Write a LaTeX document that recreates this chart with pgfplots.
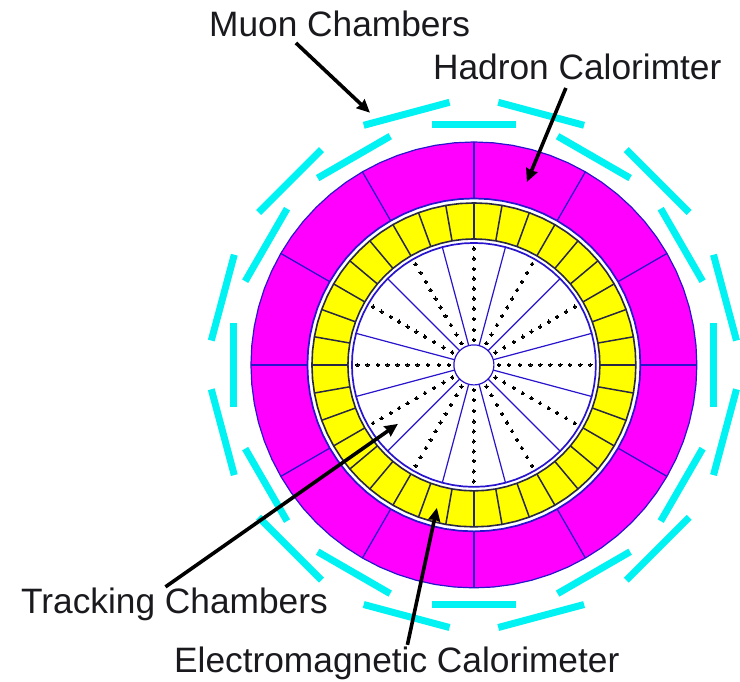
\documentclass[border=0pt]{standalone}
\usepackage{pgfplots}
\pgfplotsset{compat=1.18}
\usepackage{fontspec}
\setmainfont{Liberation Sans}
\usetikzlibrary{arrows.meta}
\definecolor{mag}{RGB}{255,0,255}
\definecolor{cy}{RGB}{0,242,242}
\definecolor{yel}{RGB}{255,255,0}
\definecolor{bl}{RGB}{40,20,205}
\definecolor{dk}{RGB}{40,40,70}
\definecolor{txt}{RGB}{25,25,30}
% a full circle of the given radius, in polar data coordinates
\newcommand{\ringplot}[4]{\addplot[data cs=polar,fill=#2,draw=#3,line width=#4,mark=none,line join=round] coordinates {(0,#1)(5,#1)(10,#1)(15,#1)(20,#1)(25,#1)(30,#1)(35,#1)(40,#1)(45,#1)(50,#1)(55,#1)(60,#1)(65,#1)(70,#1)(75,#1)(80,#1)(85,#1)(90,#1)(95,#1)(100,#1)(105,#1)(110,#1)(115,#1)(120,#1)(125,#1)(130,#1)(135,#1)(140,#1)(145,#1)(150,#1)(155,#1)(160,#1)(165,#1)(170,#1)(175,#1)(180,#1)(185,#1)(190,#1)(195,#1)(200,#1)(205,#1)(210,#1)(215,#1)(220,#1)(225,#1)(230,#1)(235,#1)(240,#1)(245,#1)(250,#1)(255,#1)(260,#1)(265,#1)(270,#1)(275,#1)(280,#1)(285,#1)(290,#1)(295,#1)(300,#1)(305,#1)(310,#1)(315,#1)(320,#1)(325,#1)(330,#1)(335,#1)(340,#1)(345,#1)(350,#1)(355,#1)(360,#1)};}
\newcommand{\lab}[3]{\node[anchor=base west,inner sep=0pt,text=txt,font=\fontsize{35.3}{38}\selectfont] at (axis cs:#1,#2) {#3};}
\begin{document}
\begin{tikzpicture}
\begin{axis}[hide axis,scale only axis,width=740pt,height=682pt,
  xmin=-474,xmax=266,ymin=-317,ymax=365,clip=false]
\path (axis cs:-474,-317) rectangle (axis cs:266,365);
% muon chambers, inner ring
\pgfplotsset{muon/.style={data cs=polar,cy,line width=7pt,mark=none}}
\addplot[muon] coordinates {(-9.9,243.6)(9.9,243.6)};
\addplot[muon] coordinates {(20.1,243.6)(39.9,243.6)};
\addplot[muon] coordinates {(50.1,243.6)(69.9,243.6)};
\addplot[muon] coordinates {(80.1,243.6)(99.9,243.6)};
\addplot[muon] coordinates {(110.1,243.6)(129.9,243.6)};
\addplot[muon] coordinates {(140.1,243.6)(159.9,243.6)};
\addplot[muon] coordinates {(170.1,243.6)(189.9,243.6)};
\addplot[muon] coordinates {(200.1,243.6)(219.9,243.6)};
\addplot[muon] coordinates {(230.1,243.6)(249.9,243.6)};
\addplot[muon] coordinates {(260.1,243.6)(279.9,243.6)};
\addplot[muon] coordinates {(290.1,243.6)(309.9,243.6)};
\addplot[muon] coordinates {(320.1,243.6)(339.9,243.6)};
% muon chambers, outer ring
\addplot[muon] coordinates {(5.3,263.8)(24.7,263.8)};
\addplot[muon] coordinates {(35.3,263.8)(54.7,263.8)};
\addplot[muon] coordinates {(65.3,263.8)(84.7,263.8)};
\addplot[muon] coordinates {(95.3,263.8)(114.7,263.8)};
\addplot[muon] coordinates {(125.3,263.8)(144.7,263.8)};
\addplot[muon] coordinates {(155.3,263.8)(174.7,263.8)};
\addplot[muon] coordinates {(185.3,263.8)(204.7,263.8)};
\addplot[muon] coordinates {(215.3,263.8)(234.7,263.8)};
\addplot[muon] coordinates {(245.3,263.8)(264.7,263.8)};
\addplot[muon] coordinates {(275.3,263.8)(294.7,263.8)};
\addplot[muon] coordinates {(305.3,263.8)(324.7,263.8)};
\addplot[muon] coordinates {(335.3,263.8)(354.7,263.8)};
% hadron calorimeter
\ringplot{223}{mag}{bl}{1.2pt}
\pgfplotsinvokeforeach{0,30,...,330}{\addplot[data cs=polar,bl,line width=1.3pt,mark=none] coordinates {(#1,167)(#1,223)};}
% electromagnetic calorimeter
\ringplot{166.5}{white}{bl}{1.7pt}
\ringplot{162}{yel}{dk}{1.6pt}
\pgfplotsinvokeforeach{0,10,...,350}{\addplot[data cs=polar,dk,line width=1.5pt,mark=none] coordinates {(#1,126)(#1,162)};}
\ringplot{126}{white}{dk}{1.6pt}
% tracking chambers
\ringplot{122}{white}{bl}{1.7pt}
\pgfplotsinvokeforeach{15,45,...,345}{\addplot[data cs=polar,bl,line width=1.2pt,mark=none] coordinates {(#1,20)(#1,122)};}
\pgfplotsinvokeforeach{0,30,...,330}{\addplot[data cs=polar,only marks,mark=*,mark size=1.7pt,mark options={fill=black,draw=black,line width=0pt},black] coordinates {(#1,25)(#1,35)(#1,46)(#1,56.5)(#1,66.5)(#1,76.5)(#1,86.5)(#1,96)(#1,106.5)(#1,116.5)};}
\ringplot{20}{white}{bl}{1.2pt}
% arrows
\pgfplotsset{arr/.style={black,line width=3.6pt,mark=none,-{Stealth[length=13pt,width=12pt,inset=1pt]}}}
\addplot[arr] coordinates {(-178,322)(-104,252.3)};
\addplot[arr] coordinates {(92,277)(53,183)};
\addplot[arr] coordinates {(-308.5,-222)(-76,-59)};
\addplot[arr] coordinates {(-66.5,-280)(-37,-143)};
% labels
\lab{-265}{328}{Muon Chambers}
\lab{-41}{285}{Hadron Calorimter}
\lab{-453}{-249}{Tracking Chambers}
\lab{-300}{-308}{Electromagnetic Calorimeter}
\end{axis}
\end{tikzpicture}
\end{document}
